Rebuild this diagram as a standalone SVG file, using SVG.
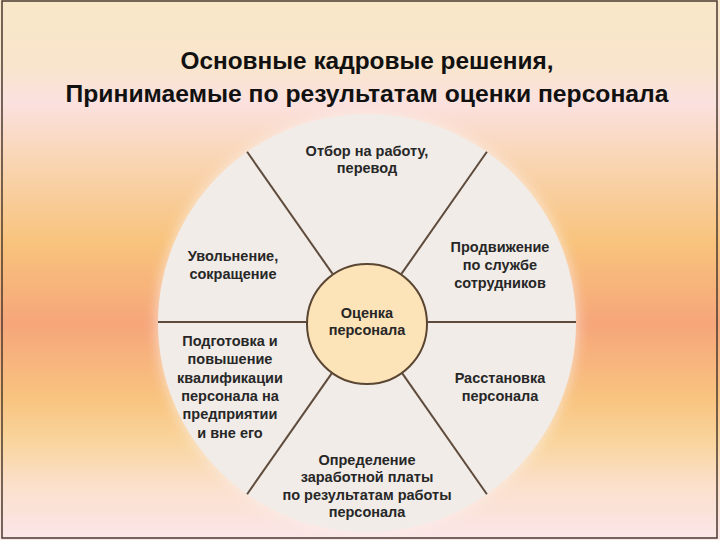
<svg xmlns="http://www.w3.org/2000/svg" width="720" height="540" viewBox="0 0 720 540">
  <defs>
    <linearGradient id="bg" x1="0" y1="0" x2="0" y2="1">
      <stop offset="0" stop-color="#f8e8c8"/>
      <stop offset="0.12" stop-color="#f9e5cc"/>
      <stop offset="0.19" stop-color="#fbe1df"/>
      <stop offset="0.30" stop-color="#f9d5b2"/>
      <stop offset="0.45" stop-color="#f8c37c"/>
      <stop offset="0.60" stop-color="#f6a67a"/>
      <stop offset="0.74" stop-color="#f8c480"/>
      <stop offset="0.82" stop-color="#f9d59e"/>
      <stop offset="0.90" stop-color="#fbe0cc"/>
      <stop offset="1" stop-color="#fbe6ea"/>
    </linearGradient>
    <filter id="blur" x="-30%" y="-30%" width="160%" height="160%">
      <feGaussianBlur stdDeviation="6"/>
    </filter>
    <style>
      .title { font-family: "Liberation Sans", Arial, sans-serif; font-weight: bold; font-size: 24px; fill: #111; text-anchor: middle; }
      .lbl { font-family: "Liberation Sans", Arial, sans-serif; font-weight: bold; font-size: 14.5px; fill: #272727; text-anchor: middle; }
      .spoke { stroke: #5e4b3c; stroke-width: 2; fill: none; }
    </style>
  </defs>

  <rect x="0" y="0" width="720" height="540" fill="url(#bg)"/>
  <circle cx="367" cy="323" r="211" fill="#fbf1ee" opacity="0.6" filter="url(#blur)"/>

  <g id="title">
    <text class="title" x="367" y="69" textLength="373" lengthAdjust="spacingAndGlyphs">Основные кадровые решения,</text>
    <text class="title" x="367" y="102" textLength="603" lengthAdjust="spacingAndGlyphs">Принимаемые по результатам оценки персонала</text>
  </g>

  <g id="wheel">
    <circle cx="367" cy="323" r="209" fill="#f1ece7"/>
  </g>

  <g id="connectors">
    <line class="spoke" x1="158" y1="322" x2="307" y2="322"/>
    <line class="spoke" x1="427" y1="322" x2="576" y2="322"/>
    <line class="spoke" x1="332.6" y1="273.9" x2="247.1" y2="151.8"/>
    <line class="spoke" x1="401.4" y1="273.9" x2="486.9" y2="151.8"/>
    <line class="spoke" x1="332.6" y1="372.1" x2="247.1" y2="494.2"/>
    <line class="spoke" x1="401.4" y1="372.1" x2="486.9" y2="494.2"/>
  </g>

  <g id="center">
    <circle cx="367" cy="324" r="60" fill="#fde3b8" stroke="#5a4632" stroke-width="2"/>
    <text class="lbl" x="367" y="318">Оценка</text>
    <text class="lbl" x="367" y="335">персонала</text>
  </g>

  <g id="top">
    <text class="lbl" x="367" y="156">Отбор на работу,</text>
    <text class="lbl" x="367" y="173">перевод</text>
  </g>

  <g id="upper-right">
    <text class="lbl" x="500" y="252">Продвижение</text>
    <text class="lbl" x="500" y="270">по службе</text>
    <text class="lbl" x="500" y="288">сотрудников</text>
  </g>

  <g id="lower-right">
    <text class="lbl" x="500" y="383">Расстановка</text>
    <text class="lbl" x="500" y="401">персонала</text>
  </g>

  <g id="bottom">
    <text class="lbl" x="367" y="465">Определение</text>
    <text class="lbl" x="367" y="482">заработной платы</text>
    <text class="lbl" x="367" y="500">по результатам работы</text>
    <text class="lbl" x="367" y="517">персонала</text>
  </g>

  <g id="lower-left">
    <text class="lbl" x="230" y="346">Подготовка и</text>
    <text class="lbl" x="230" y="364">повышение</text>
    <text class="lbl" x="230" y="383">квалификации</text>
    <text class="lbl" x="230" y="401">персонала на</text>
    <text class="lbl" x="230" y="419">предприятии</text>
    <text class="lbl" x="230" y="438">и вне его</text>
  </g>

  <g id="upper-left">
    <text class="lbl" x="233" y="261">Увольнение,</text>
    <text class="lbl" x="233" y="279">сокращение</text>
  </g>

  <rect x="2" y="1" width="715" height="537" fill="none" stroke="#4a3a30" stroke-width="1.5"/>
</svg>
